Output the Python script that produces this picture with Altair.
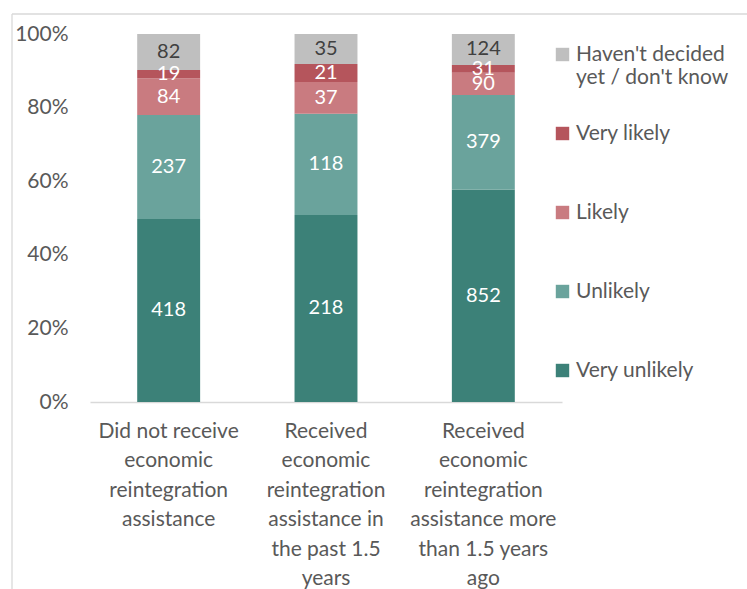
import altair as alt
import pandas as pd

categories = [
    "Did not receive\neconomic\nreintegration\nassistance",
    "Received\neconomic\nreintegration\nassistance in\nthe past 1.5\nyears",
    "Received\neconomic\nreintegration\nassistance more\nthan 1.5 years\nago",
]
series = ["Very unlikely", "Unlikely", "Likely", "Very likely", "Haven't decided\nyet / don't know"]
very_unlikely = [418, 218, 852]
unlikely = [237, 118, 379]
likely = [84, 37, 90]
very_likely = [19, 21, 31]
havent = [82, 35, 124]
colors = ["#3C8178", "#6AA39C", "#C97B80", "#B5555C", "#BFBFBF"]

values = [very_unlikely, unlikely, likely, very_likely, havent]
rows = []
for si, s in enumerate(series):
    for ci, c in enumerate(categories):
        rows.append({"category": c, "series": s, "order": si, "count": values[si][ci]})
df = pd.DataFrame(rows)

FONT = "Lato"

base = alt.Chart(df).transform_joinaggregate(
    total="sum(count)", groupby=["category"]
).transform_calculate(
    pct="datum.count / datum.total"
).transform_stack(
    stack="pct", as_=["y0", "y1"], groupby=["category"], sort=[alt.SortField("order")]
).transform_calculate(
    mid="(datum.y0 + datum.y1) / 2"
)

x_enc = alt.X(
    "category:N", sort=categories, title=None,
    scale=alt.Scale(paddingInner=0.6, paddingOuter=0.3),
    axis=alt.Axis(
        labelExpr="split(datum.label, '\\n')", labelAngle=0, labelFontSize=21,
        labelLineHeight=29.5, labelColor="#595959", labelFont=FONT, ticks=False,
        domainColor="#D9D9D9", domainWidth=1.3, labelPadding=18, labelBaseline="top",
        labelLimit=300,
    ),
)

bars = base.mark_bar(stroke=None).encode(
    x=x_enc,
    y=alt.Y(
        "y0:Q", title=None, scale=alt.Scale(domain=[0, 1], nice=False),
        axis=alt.Axis(format="%", values=[0, 0.2, 0.4, 0.6, 0.8, 1.0], grid=False,
                      domain=False, ticks=False, labelFontSize=21, labelColor="#595959",
                      labelFont=FONT, labelPadding=22),
    ),
    y2="y1:Q",
    color=alt.Color(
        "series:N", scale=alt.Scale(domain=series[::-1], range=colors[::-1]),
        legend=alt.Legend(
            title=None, orient="none", legendX=462, legendY=10,
            symbolType="square", symbolSize=180, symbolStrokeWidth=0,
            labelFontSize=21, labelFont=FONT, labelColor="#595959",
            labelExpr="indexof(datum.label, '\\n') >= 0 ? split(datum.label, '\\n') : [datum.label, ' ']",
            labelLimit=300, rowPadding=34, labelOffset=3,
        ),
    ),
    order=alt.Order("order:Q"),
)

text = base.mark_text(fontSize=20, font=FONT).encode(
    x=alt.X("category:N", sort=categories),
    y=alt.Y("mid:Q"),
    text=alt.Text("count:Q"),
    color=alt.condition(
        alt.datum.order == 4, alt.value("#404040"), alt.value("#FFFFFF")
    ),
)

frame = alt.Chart(pd.DataFrame({"a": [0]})).mark_rule(color="#D9D9D9", strokeWidth=1.3).encode(
    x=alt.value(-78), x2=alt.value(700), y=alt.value(-20)
)
frame2 = alt.Chart(pd.DataFrame({"a": [0]})).mark_rule(color="#D9D9D9", strokeWidth=1.3).encode(
    x=alt.value(-78), y=alt.value(-20), y2=alt.value(600)
)

chart = alt.layer(bars, text, frame, frame2).properties(
    width=472, height=368,
    autosize=alt.AutoSizeParams(type="none"),
    padding={"left": 90, "top": 34, "right": 185, "bottom": 187},
).configure(background="white", view=alt.ViewConfig(stroke=None))

chart.save("out.html", embed_options={"renderer": "svg", "actions": False})
